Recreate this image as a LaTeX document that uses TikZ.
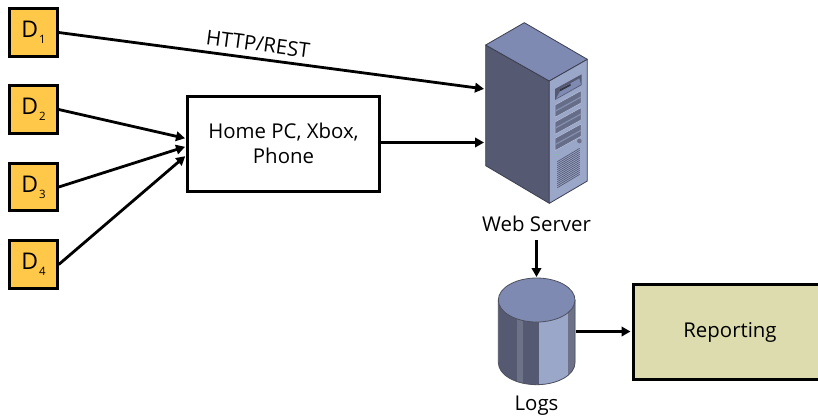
\documentclass[tikz,border=0pt]{standalone}
\usepackage{fontspec}
\setmainfont{Open Sans}
\usetikzlibrary{arrows.meta}
\definecolor{srvtop}{HTML}{7F8AB3}
\definecolor{srvleft}{HTML}{555A72}
\definecolor{srvfront}{HTML}{9BA7C9}
\definecolor{srvmid}{HTML}{6E7288}
\definecolor{devfill}{HTML}{FFC848}
\definecolor{repfill}{HTML}{DCDCAE}
\tikzset{
  devbox/.style={draw=black,line width=3pt,fill=devfill,minimum size=47.5pt,inner sep=0pt,outer sep=1.5pt,font=\fontsize{23}{26}\selectfont},
  homebox/.style={draw=black,line width=3pt,fill=white,minimum width=192pt,minimum height=95pt,align=center,outer sep=1.5pt,font=\fontsize{20.4}{25}\selectfont},
  repbox/.style={draw=black,line width=3pt,fill=repfill,minimum width=190pt,minimum height=95pt,outer sep=1.5pt},
  lab/.style={font=\fontsize{20.4}{25}\selectfont,inner sep=0pt},
  conn/.style={draw=black,line width=2.8pt,-{Triangle[length=9pt,width=9.5pt]},shorten >=1pt},
  edge3d/.style={draw=srvleft!70!black,line width=0.8pt,line join=round},
  bay/.style={fill=srvleft!75!srvfront,draw=srvfront!70!white,line width=0.5pt},
}
\newcommand{\devlabel}[1]{D\kern1pt\raisebox{-6pt}{\fontsize{11.5}{12}\selectfont #1}}
\begin{document}
\begin{tikzpicture}[x=1pt,y=-1pt]
\useasboundingbox (0,0) rectangle (818,416);
% devices
\node[devbox] (d1) at (33.5,32.5) {\devlabel{1}};
\node[devbox] (d2) at (33.5,109.5) {\devlabel{2}};
\node[devbox] (d3) at (33.5,187) {\devlabel{3}};
\node[devbox] (d4) at (33.5,264.5) {\devlabel{4}};
\node[homebox] (home) at (283.5,143.5) {Home PC, Xbox,\\Phone};
% server
\begin{scope}[shift={(470,20)},scale=1/3]
  \filldraw[edge3d,fill=srvleft] (47,75) -- (238,183) -- (238,550) -- (47,437) -- cycle;
  \filldraw[edge3d,fill=srvtop] (47,75) -- (163,8) -- (352,118) -- (238,183) -- cycle;
  \filldraw[edge3d,fill=srvfront] (238,183) -- (352,118) -- (352,483) -- (238,550) -- cycle;
  \fill[srvleft] (255,207) -- (335,163) -- (335,195) -- (255,240) -- cycle;
  \fill[srvtop] (275,205) -- (328,175) -- (333,193) -- (258,236) -- cycle;
  \fill[srvleft!60!black] (270,208) -- (302,191) -- (302,197) -- (270,214) -- cycle;
  \foreach \o in {0,51,100}{
    \fill[bay,shift={(0,\o)}] (255,255) -- (333,212) -- (333,249) -- (255,292) -- cycle;
    \fill[srvfront!70!srvleft,shift={(0,\o)}] (255,272) -- (333,229) -- (333,233) -- (255,276) -- cycle;
  }
  \fill[srvmid] (328,363) circle (7);
  \fill[green!80!white] (257,404) circle (2.5);
  \foreach \o in {0,6,...,78}{
    \draw[srvleft,line width=0.7pt] (262,{425+\o}) -- (329,{385+\o});
  }
\end{scope}
\coordinate (srvupper) at (485,89);
\coordinate (srvlower) at (485,142.5);
\coordinate (srvdown) at (536.5,240);
\node[lab] (weblab) at (536.5,224) {Web Server};
% cylinder
\begin{scope}[shift={(480,240)},scale=1/3]
  \begin{scope}
    \clip (55,180) -- (55,368) arc[start angle=180,end angle=0,x radius=115,y radius=66] -- (285,180) -- cycle;
    \fill[srvleft] (50,170) rectangle (290,440);
    \fill[srvmid] (110,170) rectangle (128,440);
    \fill[srvfront] (178,170) rectangle (265,440);
    \fill[srvmid] (265,170) rectangle (290,440);
  \end{scope}
  \draw[edge3d,draw=srvmid!70!black] (55,180) -- (55,368) arc[start angle=180,end angle=0,x radius=115,y radius=66] -- (285,180);
  \filldraw[edge3d,draw=srvmid!70!black,fill=srvtop] (170,180) ellipse[x radius=115,y radius=66];
\end{scope}
\coordinate (logstop) at (536.5,278);
\coordinate (logsright) at (576,331.5);
\node[lab] (logslab) at (536.5,406) {Logs};
% reporting
\node[repbox] (rep) at (728,331.5) {};
\node[lab] (replab) at (730,332.5) {Reporting};
% text
\node[lab,rotate=-7.5] (http) at (258,44) {HTTP/REST};
% connectors
\draw[conn] (d1.east) -- (srvupper);
\draw[conn] (d2.east) -- ([yshift=5pt]home.west);
\draw[conn] (d3.east) -- ([yshift=-3pt]home.west);
\draw[conn] (d4.east) -- ([yshift=-12pt]home.west);
\draw[conn] ([yshift=1pt]home.east) -- (srvlower);
\draw[conn] (srvdown) -- (logstop);
\draw[conn] (logsright) -- (rep.west);
\end{tikzpicture}
\end{document}
